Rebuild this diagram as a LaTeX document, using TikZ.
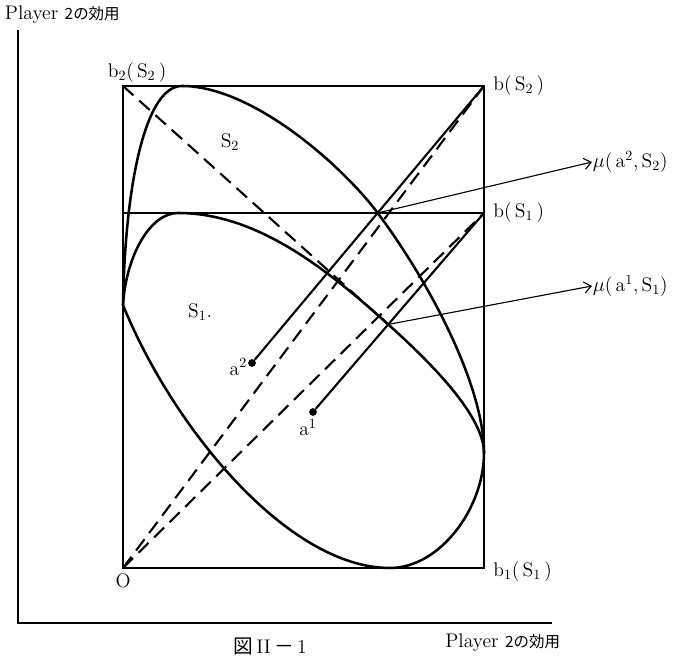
\documentclass[tikz,border=0pt]{standalone}
\usepackage{fontspec}
\newfontfamily\jafont{Noto Sans CJK JP}
\usetikzlibrary{arrows.meta,positioning,calc}
\tikzset{
  axisline/.style={line width=1.3pt},
  boxline/.style={line width=1.1pt},
  bd/.style={line width=1.8pt, line join=round},
  ray/.style={line width=1.5pt},
  guide/.style={line width=1.5pt, dash pattern=on 10pt off 5.5pt},
  pointer/.style={line width=0.8pt, -{Straight Barb[length=5pt,width=8pt]}},
  lbl/.style={inner sep=0.5pt, font=\fontsize{14}{16}\selectfont},
  pdot/.style={circle, fill, inner sep=0pt, minimum size=5.5pt}
}
\newcommand{\ja}[1]{{\fontsize{11}{13}\selectfont\jafont #1}}

\begin{document}
\begin{tikzpicture}[x=0.025cm, y=0.025cm]
\useasboundingbox (0,0) rectangle (679,656);
\coordinate (org) at (18,33);
\coordinate (yend) at (18,626);
\coordinate (xend) at (552,33);
\coordinate (O) at (123,88);
\coordinate (b1S1) at (484,88);
\coordinate (b2S1) at (123,443);
\coordinate (bS1) at (484,443);
\coordinate (b2S2) at (123,570);
\coordinate (bS2) at (484,570);
\coordinate (L) at (123,351);
\coordinate (R) at (484,203);
\coordinate (B) at (390,88);
\coordinate (T1) at (178,443);
\coordinate (T2) at (182,570);
\node[pdot] (a2) at (252,293) {};
\node[pdot] (a1) at (313,244) {};
\coordinate (mu2) at (intersection of a2--bS2 and b2S1--bS1);
\coordinate (mu1) at ($(a1)!0.44!(bS1)$);
\draw[axisline] (yend) -- (org) -- (xend);
\draw[boxline] (O) rectangle (bS2) (b2S1) -- (bS1);
\draw[guide] (O) -- (bS2) (O) -- (bS1) (b2S2) -- (mu1);
\draw[ray] (a2) -- (bS2) (a1) -- (bS1);
\draw[bd] (L) .. controls +(2,119) and +(-37,0) .. (T2)
  .. controls +(70,0) and +(-36,48) .. (mu2)
  .. controls +(48,-64) and +(0,70) .. (R)
  .. controls +(0,-55) and +(50,0) .. (B)
  .. controls +(-103,0) and +(48.75,-120.5) .. (L);
\draw[bd] (L) .. controls +(3,49) and +(-28,0) .. (T1)
  .. controls +(80,0) and +(-59.4,53.5) .. (mu1)
  .. controls +(33.4,-30.1) and +(0,40) .. (R);
\node[lbl, right=6pt of bS2] (lbS2) {b(\,S$_2$\,)};
\node[lbl, right=6pt of bS1] (lbS1) {b(\,S$_1$\,)};
\node[lbl, right=6pt of b1S1, yshift=-2.5pt] (lb1S1) {b$_1$(\,S$_1$\,)};
\node[lbl, above right=2pt and -11.5pt of b2S2] (lb2S2) {b$_2$(\,S$_2$\,)};
\node[lbl, below=3pt of O] (lO) {O};
\node[lbl] (lS2) at (230,514) {S$_2$};
\node[lbl] (lS1) at (200,344) {S$_1$.};
\node[lbl, anchor=east] (la2) at ($(a2)+(-4,-4)$) {a$^2$};
\node[lbl, anchor=north] (la1) at ($(a1)+(-5,-6)$) {a$^1$};
\node[lbl, anchor=west] (lmu2) at (592,494) {$\mu$(\,a$^2$,\,S$_2$)};
\node[lbl, anchor=west] (lmu1) at (592,370) {$\mu$(\,a$^1$,\,S$_1$)};
\draw[pointer] (mu2) -- (lmu2.west);
\draw[pointer] (mu1) -- (lmu1.west);
\node[lbl, anchor=west] (ylab) at (4,641) {Player \ja{2の効用}};
\node[lbl, anchor=east] (xlab) at (561,13) {Player \ja{2の効用}};
\node[lbl, anchor=south] (cap) at (270,0) {{\jafont 図}\,II\,{\jafont －}\,1};
\end{tikzpicture}
\end{document}
